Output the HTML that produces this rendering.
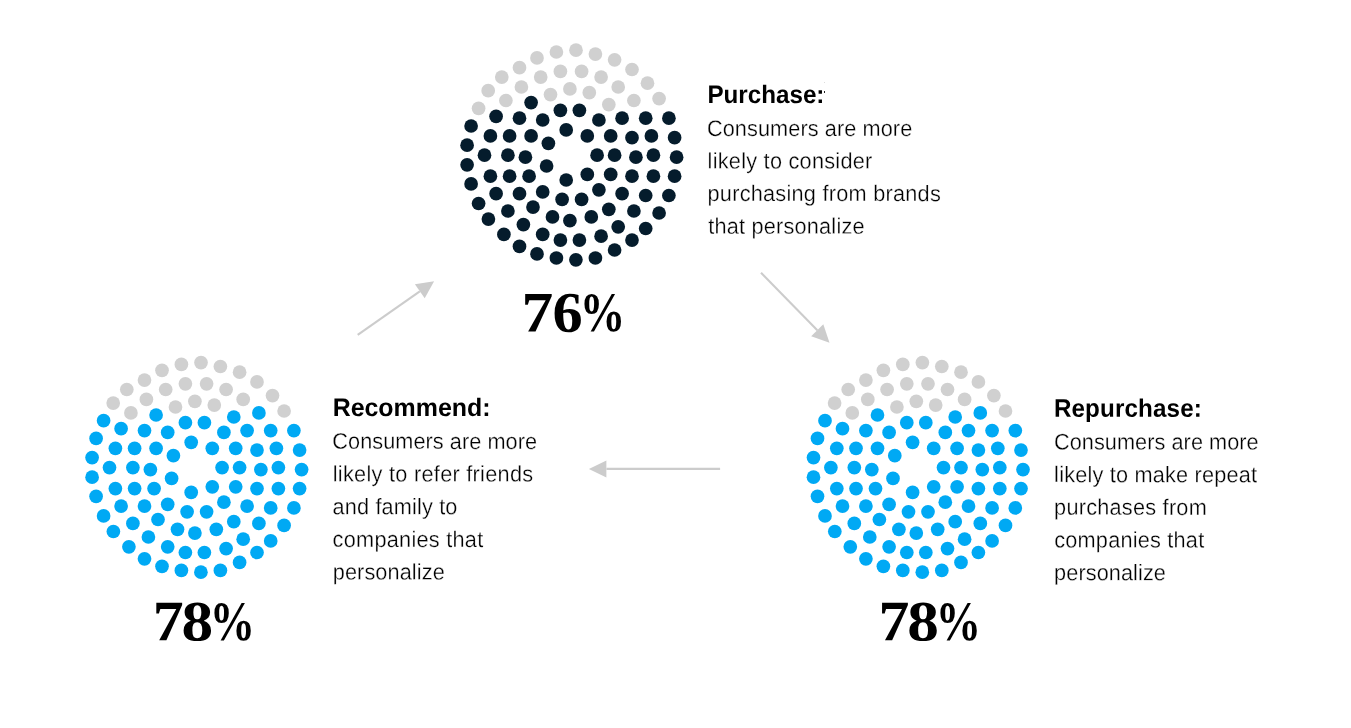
<!DOCTYPE html><html><head><meta charset="utf-8"><title>Personalization</title><style>
html,body{margin:0;padding:0;background:#fff}
body{width:1351px;height:728px;position:relative;overflow:hidden;font-family:"Liberation Sans",sans-serif;color:#000;text-rendering:geometricPrecision}
.t{position:absolute;left:0;top:0;white-space:nowrap;line-height:1;margin:0;transform-origin:0 0}
.r{font-size:21.7px;font-weight:400;-webkit-text-stroke:0.28px #fff}
.b{font-size:24.2px;font-weight:700}
.n{position:absolute;left:0;top:0;white-space:nowrap;font:700 56px/1 "Liberation Serif",serif;margin:0}
.n span{position:absolute;left:0;top:0;display:block;transform-origin:0 0}
</style></head><body>
<svg width="1351" height="728" viewBox="0 0 1351 728" style="position:absolute;left:0;top:0">
<g fill="#d0d0d0"><circle cx="576.0" cy="50.2" r="6.85"/><circle cx="556.4" cy="52.0" r="6.85"/><circle cx="537.0" cy="57.9" r="6.85"/><circle cx="519.5" cy="67.7" r="6.85"/><circle cx="501.8" cy="77.1" r="6.85"/><circle cx="488.2" cy="90.7" r="6.85"/><circle cx="478.6" cy="108.3" r="6.85"/><circle cx="560.4" cy="71.4" r="6.85"/><circle cx="540.7" cy="77.1" r="6.85"/><circle cx="521.4" cy="87.0" r="6.85"/><circle cx="505.9" cy="100.5" r="6.85"/><circle cx="581.6" cy="71.4" r="6.85"/><circle cx="569.9" cy="88.9" r="6.85"/><circle cx="550.5" cy="94.6" r="6.85"/><circle cx="595.4" cy="54.1" r="6.85"/><circle cx="614.6" cy="59.8" r="6.85"/><circle cx="632.0" cy="69.5" r="6.85"/><circle cx="647.5" cy="83.2" r="6.85"/><circle cx="659.1" cy="98.6" r="6.85"/><circle cx="601.1" cy="77.1" r="6.85"/><circle cx="618.2" cy="87.0" r="6.85"/><circle cx="633.9" cy="100.5" r="6.85"/><circle cx="589.3" cy="92.7" r="6.85"/><circle cx="608.8" cy="104.6" r="6.85"/></g>
<g fill="#051c2c"><circle cx="531.1" cy="102.6" r="6.85"/><circle cx="560.4" cy="110.3" r="6.85"/><circle cx="579.4" cy="110.3" r="6.85"/><circle cx="496.1" cy="116.3" r="6.85"/><circle cx="519.5" cy="118.2" r="6.85"/><circle cx="542.7" cy="120.0" r="6.85"/><circle cx="471.1" cy="126.0" r="6.85"/><circle cx="490.4" cy="135.9" r="6.85"/><circle cx="509.6" cy="135.9" r="6.85"/><circle cx="531.1" cy="135.9" r="6.85"/><circle cx="566.2" cy="129.9" r="6.85"/><circle cx="548.4" cy="143.3" r="6.85"/><circle cx="467.1" cy="145.2" r="6.85"/><circle cx="484.5" cy="155.2" r="6.85"/><circle cx="507.9" cy="155.2" r="6.85"/><circle cx="525.4" cy="157.2" r="6.85"/><circle cx="467.1" cy="164.8" r="6.85"/><circle cx="546.6" cy="166.0" r="6.85"/><circle cx="598.9" cy="120.0" r="6.85"/><circle cx="622.1" cy="118.2" r="6.85"/><circle cx="645.7" cy="118.2" r="6.85"/><circle cx="668.9" cy="118.2" r="6.85"/><circle cx="587.3" cy="135.9" r="6.85"/><circle cx="610.7" cy="135.9" r="6.85"/><circle cx="632.0" cy="137.7" r="6.85"/><circle cx="651.4" cy="135.9" r="6.85"/><circle cx="674.6" cy="137.7" r="6.85"/><circle cx="597.1" cy="155.2" r="6.85"/><circle cx="614.6" cy="155.2" r="6.85"/><circle cx="635.9" cy="157.2" r="6.85"/><circle cx="653.4" cy="155.2" r="6.85"/><circle cx="676.6" cy="157.2" r="6.85"/><circle cx="490.4" cy="176.2" r="6.85"/><circle cx="509.6" cy="176.2" r="6.85"/><circle cx="529.1" cy="176.2" r="6.85"/><circle cx="471.1" cy="183.9" r="6.85"/><circle cx="566.2" cy="180.0" r="6.85"/><circle cx="496.1" cy="193.7" r="6.85"/><circle cx="519.5" cy="193.7" r="6.85"/><circle cx="542.7" cy="191.9" r="6.85"/><circle cx="562.1" cy="199.4" r="6.85"/><circle cx="581.6" cy="199.4" r="6.85"/><circle cx="478.6" cy="203.5" r="6.85"/><circle cx="533.0" cy="207.1" r="6.85"/><circle cx="507.9" cy="211.0" r="6.85"/><circle cx="488.4" cy="219.1" r="6.85"/><circle cx="552.5" cy="216.9" r="6.85"/><circle cx="569.9" cy="220.7" r="6.85"/><circle cx="523.4" cy="224.6" r="6.85"/><circle cx="503.9" cy="234.4" r="6.85"/><circle cx="542.7" cy="234.4" r="6.85"/><circle cx="560.4" cy="240.1" r="6.85"/><circle cx="579.4" cy="240.1" r="6.85"/><circle cx="519.5" cy="246.4" r="6.85"/><circle cx="537.0" cy="253.9" r="6.85"/><circle cx="556.4" cy="258.0" r="6.85"/><circle cx="575.9" cy="259.8" r="6.85"/><circle cx="587.3" cy="174.4" r="6.85"/><circle cx="610.7" cy="174.4" r="6.85"/><circle cx="632.0" cy="176.2" r="6.85"/><circle cx="653.4" cy="176.2" r="6.85"/><circle cx="674.6" cy="176.2" r="6.85"/><circle cx="598.9" cy="189.8" r="6.85"/><circle cx="622.1" cy="193.7" r="6.85"/><circle cx="645.7" cy="195.5" r="6.85"/><circle cx="668.9" cy="195.5" r="6.85"/><circle cx="608.8" cy="209.3" r="6.85"/><circle cx="633.9" cy="211.0" r="6.85"/><circle cx="659.1" cy="213.0" r="6.85"/><circle cx="591.3" cy="216.9" r="6.85"/><circle cx="618.2" cy="226.8" r="6.85"/><circle cx="645.7" cy="228.5" r="6.85"/><circle cx="601.1" cy="236.2" r="6.85"/><circle cx="632.0" cy="240.1" r="6.85"/><circle cx="614.6" cy="250.0" r="6.85"/><circle cx="595.4" cy="258.0" r="6.85"/></g>
<g fill="#d0d0d0"><circle cx="201.0" cy="362.6" r="6.85"/><circle cx="181.4" cy="364.4" r="6.85"/><circle cx="162.0" cy="370.3" r="6.85"/><circle cx="144.5" cy="380.1" r="6.85"/><circle cx="126.8" cy="389.5" r="6.85"/><circle cx="113.2" cy="403.1" r="6.85"/><circle cx="185.4" cy="383.8" r="6.85"/><circle cx="165.7" cy="389.5" r="6.85"/><circle cx="146.4" cy="399.4" r="6.85"/><circle cx="130.9" cy="412.9" r="6.85"/><circle cx="206.6" cy="383.8" r="6.85"/><circle cx="194.9" cy="401.3" r="6.85"/><circle cx="175.5" cy="407.0" r="6.85"/><circle cx="220.4" cy="366.5" r="6.85"/><circle cx="239.6" cy="372.2" r="6.85"/><circle cx="257.0" cy="381.9" r="6.85"/><circle cx="272.5" cy="395.6" r="6.85"/><circle cx="284.1" cy="411.0" r="6.85"/><circle cx="226.1" cy="389.5" r="6.85"/><circle cx="243.2" cy="399.4" r="6.85"/><circle cx="214.3" cy="405.1" r="6.85"/></g>
<g fill="#00a9f4"><circle cx="103.6" cy="420.7" r="6.85"/><circle cx="258.9" cy="412.9" r="6.85"/><circle cx="233.8" cy="417.0" r="6.85"/><circle cx="156.1" cy="415.0" r="6.85"/><circle cx="185.4" cy="422.7" r="6.85"/><circle cx="204.4" cy="422.7" r="6.85"/><circle cx="121.1" cy="428.7" r="6.85"/><circle cx="144.5" cy="430.6" r="6.85"/><circle cx="167.7" cy="432.4" r="6.85"/><circle cx="96.1" cy="438.4" r="6.85"/><circle cx="115.4" cy="448.3" r="6.85"/><circle cx="134.6" cy="448.3" r="6.85"/><circle cx="156.1" cy="448.3" r="6.85"/><circle cx="191.2" cy="442.3" r="6.85"/><circle cx="173.4" cy="455.7" r="6.85"/><circle cx="92.1" cy="457.6" r="6.85"/><circle cx="109.5" cy="467.6" r="6.85"/><circle cx="132.9" cy="467.6" r="6.85"/><circle cx="150.4" cy="469.6" r="6.85"/><circle cx="92.1" cy="477.2" r="6.85"/><circle cx="171.6" cy="478.4" r="6.85"/><circle cx="223.9" cy="432.4" r="6.85"/><circle cx="247.1" cy="430.6" r="6.85"/><circle cx="270.7" cy="430.6" r="6.85"/><circle cx="293.9" cy="430.6" r="6.85"/><circle cx="212.3" cy="448.3" r="6.85"/><circle cx="235.7" cy="448.3" r="6.85"/><circle cx="257.0" cy="450.1" r="6.85"/><circle cx="276.4" cy="448.3" r="6.85"/><circle cx="299.6" cy="450.1" r="6.85"/><circle cx="222.1" cy="467.6" r="6.85"/><circle cx="239.6" cy="467.6" r="6.85"/><circle cx="260.9" cy="469.6" r="6.85"/><circle cx="278.4" cy="467.6" r="6.85"/><circle cx="301.6" cy="469.6" r="6.85"/><circle cx="115.4" cy="488.6" r="6.85"/><circle cx="134.6" cy="488.6" r="6.85"/><circle cx="154.1" cy="488.6" r="6.85"/><circle cx="96.1" cy="496.3" r="6.85"/><circle cx="191.2" cy="492.4" r="6.85"/><circle cx="121.1" cy="506.1" r="6.85"/><circle cx="144.5" cy="506.1" r="6.85"/><circle cx="167.7" cy="504.3" r="6.85"/><circle cx="187.1" cy="511.8" r="6.85"/><circle cx="206.6" cy="511.8" r="6.85"/><circle cx="103.6" cy="515.9" r="6.85"/><circle cx="158.0" cy="519.5" r="6.85"/><circle cx="132.9" cy="523.4" r="6.85"/><circle cx="113.4" cy="531.5" r="6.85"/><circle cx="177.5" cy="529.3" r="6.85"/><circle cx="194.9" cy="533.1" r="6.85"/><circle cx="148.4" cy="537.0" r="6.85"/><circle cx="128.9" cy="546.8" r="6.85"/><circle cx="167.7" cy="546.8" r="6.85"/><circle cx="185.4" cy="552.5" r="6.85"/><circle cx="204.4" cy="552.5" r="6.85"/><circle cx="144.5" cy="558.8" r="6.85"/><circle cx="162.0" cy="566.3" r="6.85"/><circle cx="181.4" cy="570.4" r="6.85"/><circle cx="200.9" cy="572.2" r="6.85"/><circle cx="212.3" cy="486.8" r="6.85"/><circle cx="235.7" cy="486.8" r="6.85"/><circle cx="257.0" cy="488.6" r="6.85"/><circle cx="278.4" cy="488.6" r="6.85"/><circle cx="299.6" cy="488.6" r="6.85"/><circle cx="223.9" cy="502.2" r="6.85"/><circle cx="247.1" cy="506.1" r="6.85"/><circle cx="270.7" cy="507.9" r="6.85"/><circle cx="293.9" cy="507.9" r="6.85"/><circle cx="233.8" cy="521.7" r="6.85"/><circle cx="258.9" cy="523.4" r="6.85"/><circle cx="284.1" cy="525.4" r="6.85"/><circle cx="216.3" cy="529.3" r="6.85"/><circle cx="243.2" cy="539.2" r="6.85"/><circle cx="270.7" cy="540.9" r="6.85"/><circle cx="226.1" cy="548.6" r="6.85"/><circle cx="257.0" cy="552.5" r="6.85"/><circle cx="239.6" cy="562.4" r="6.85"/><circle cx="220.4" cy="570.4" r="6.85"/></g>
<g fill="#d0d0d0"><circle cx="922.4" cy="362.6" r="6.85"/><circle cx="902.8" cy="364.4" r="6.85"/><circle cx="883.4" cy="370.3" r="6.85"/><circle cx="865.9" cy="380.1" r="6.85"/><circle cx="848.2" cy="389.5" r="6.85"/><circle cx="834.6" cy="403.1" r="6.85"/><circle cx="906.8" cy="383.8" r="6.85"/><circle cx="887.1" cy="389.5" r="6.85"/><circle cx="867.8" cy="399.4" r="6.85"/><circle cx="852.3" cy="412.9" r="6.85"/><circle cx="928.0" cy="383.8" r="6.85"/><circle cx="916.3" cy="401.3" r="6.85"/><circle cx="896.9" cy="407.0" r="6.85"/><circle cx="941.8" cy="366.5" r="6.85"/><circle cx="961.0" cy="372.2" r="6.85"/><circle cx="978.4" cy="381.9" r="6.85"/><circle cx="993.9" cy="395.6" r="6.85"/><circle cx="1005.5" cy="411.0" r="6.85"/><circle cx="947.5" cy="389.5" r="6.85"/><circle cx="964.6" cy="399.4" r="6.85"/><circle cx="935.7" cy="405.1" r="6.85"/></g>
<g fill="#00a9f4"><circle cx="825.0" cy="420.7" r="6.85"/><circle cx="980.3" cy="412.9" r="6.85"/><circle cx="955.2" cy="417.0" r="6.85"/><circle cx="877.5" cy="415.0" r="6.85"/><circle cx="906.8" cy="422.7" r="6.85"/><circle cx="925.8" cy="422.7" r="6.85"/><circle cx="842.5" cy="428.7" r="6.85"/><circle cx="865.9" cy="430.6" r="6.85"/><circle cx="889.1" cy="432.4" r="6.85"/><circle cx="817.5" cy="438.4" r="6.85"/><circle cx="836.8" cy="448.3" r="6.85"/><circle cx="856.0" cy="448.3" r="6.85"/><circle cx="877.5" cy="448.3" r="6.85"/><circle cx="912.6" cy="442.3" r="6.85"/><circle cx="894.8" cy="455.7" r="6.85"/><circle cx="813.5" cy="457.6" r="6.85"/><circle cx="830.9" cy="467.6" r="6.85"/><circle cx="854.3" cy="467.6" r="6.85"/><circle cx="871.8" cy="469.6" r="6.85"/><circle cx="813.5" cy="477.2" r="6.85"/><circle cx="893.0" cy="478.4" r="6.85"/><circle cx="945.3" cy="432.4" r="6.85"/><circle cx="968.5" cy="430.6" r="6.85"/><circle cx="992.1" cy="430.6" r="6.85"/><circle cx="1015.3" cy="430.6" r="6.85"/><circle cx="933.7" cy="448.3" r="6.85"/><circle cx="957.1" cy="448.3" r="6.85"/><circle cx="978.4" cy="450.1" r="6.85"/><circle cx="997.8" cy="448.3" r="6.85"/><circle cx="1021.0" cy="450.1" r="6.85"/><circle cx="943.5" cy="467.6" r="6.85"/><circle cx="961.0" cy="467.6" r="6.85"/><circle cx="982.3" cy="469.6" r="6.85"/><circle cx="999.8" cy="467.6" r="6.85"/><circle cx="1023.0" cy="469.6" r="6.85"/><circle cx="836.8" cy="488.6" r="6.85"/><circle cx="856.0" cy="488.6" r="6.85"/><circle cx="875.5" cy="488.6" r="6.85"/><circle cx="817.5" cy="496.3" r="6.85"/><circle cx="912.6" cy="492.4" r="6.85"/><circle cx="842.5" cy="506.1" r="6.85"/><circle cx="865.9" cy="506.1" r="6.85"/><circle cx="889.1" cy="504.3" r="6.85"/><circle cx="908.5" cy="511.8" r="6.85"/><circle cx="928.0" cy="511.8" r="6.85"/><circle cx="825.0" cy="515.9" r="6.85"/><circle cx="879.4" cy="519.5" r="6.85"/><circle cx="854.3" cy="523.4" r="6.85"/><circle cx="834.8" cy="531.5" r="6.85"/><circle cx="898.9" cy="529.3" r="6.85"/><circle cx="916.3" cy="533.1" r="6.85"/><circle cx="869.8" cy="537.0" r="6.85"/><circle cx="850.3" cy="546.8" r="6.85"/><circle cx="889.1" cy="546.8" r="6.85"/><circle cx="906.8" cy="552.5" r="6.85"/><circle cx="925.8" cy="552.5" r="6.85"/><circle cx="865.9" cy="558.8" r="6.85"/><circle cx="883.4" cy="566.3" r="6.85"/><circle cx="902.8" cy="570.4" r="6.85"/><circle cx="922.3" cy="572.2" r="6.85"/><circle cx="933.7" cy="486.8" r="6.85"/><circle cx="957.1" cy="486.8" r="6.85"/><circle cx="978.4" cy="488.6" r="6.85"/><circle cx="999.8" cy="488.6" r="6.85"/><circle cx="1021.0" cy="488.6" r="6.85"/><circle cx="945.3" cy="502.2" r="6.85"/><circle cx="968.5" cy="506.1" r="6.85"/><circle cx="992.1" cy="507.9" r="6.85"/><circle cx="1015.3" cy="507.9" r="6.85"/><circle cx="955.2" cy="521.7" r="6.85"/><circle cx="980.3" cy="523.4" r="6.85"/><circle cx="1005.5" cy="525.4" r="6.85"/><circle cx="937.7" cy="529.3" r="6.85"/><circle cx="964.6" cy="539.2" r="6.85"/><circle cx="992.1" cy="540.9" r="6.85"/><circle cx="947.5" cy="548.6" r="6.85"/><circle cx="978.4" cy="552.5" r="6.85"/><circle cx="961.0" cy="562.4" r="6.85"/><circle cx="941.8" cy="570.4" r="6.85"/></g>
<line x1="357.7" y1="334.8" x2="419.8" y2="291.3" stroke="#cccccc" stroke-width="2.1"/><polygon fill="#cccccc" points="434.1,281.2 424.7,298.2 414.9,284.3"/>
<line x1="761.0" y1="272.7" x2="817.3" y2="330.3" stroke="#cccccc" stroke-width="2.1"/><polygon fill="#cccccc" points="829.5,342.8 811.2,336.2 823.3,324.3"/>
<line x1="720.1" y1="468.9" x2="606.4" y2="468.9" stroke="#cccccc" stroke-width="2.1"/><polygon fill="#cccccc" points="588.9,468.9 606.4,460.4 606.4,477.4"/>
</svg>
<div class="t b" id="l0" style="letter-spacing:0.010px;transform:translate(707.40px,83.05px) rotate(.03deg) scale(1.0000,1.045)">Purchase:</div>
<div class="t r" id="l1" style="letter-spacing:0.094px;transform:translate(706.92px,117.20px) rotate(.03deg) scale(1.0000,1.040)">Consumers are more</div>
<div class="t r" id="l2" style="letter-spacing:0.262px;transform:translate(707.56px,149.80px) rotate(.03deg) scale(1.0000,1.040)">likely to consider</div>
<div class="t r" id="l3" style="letter-spacing:0.257px;transform:translate(707.52px,182.30px) rotate(.03deg) scale(1.0000,1.040)">purchasing from brands</div>
<div class="t r" id="l4" style="letter-spacing:0.216px;transform:translate(708.19px,215.05px) rotate(.03deg) scale(1.0000,1.040)">that personalize</div>
<div class="t b" id="l5" style="letter-spacing:0.000px;transform:translate(332.67px,396.15px) rotate(.03deg) scale(1.0302,1.045)">Recommend:</div>
<div class="t r" id="l6" style="letter-spacing:0.061px;transform:translate(332.29px,430.10px) rotate(.03deg) scale(1.0000,1.040)">Consumers are more</div>
<div class="t r" id="l7" style="letter-spacing:0.287px;transform:translate(332.76px,462.80px) rotate(.03deg) scale(1.0000,1.040)">likely to refer friends</div>
<div class="t r" id="l8" style="letter-spacing:0.153px;transform:translate(332.59px,495.45px) rotate(.03deg) scale(1.0000,1.040)">and family to</div>
<div class="t r" id="l9" style="letter-spacing:0.270px;transform:translate(332.62px,528.15px) rotate(.03deg) scale(1.0000,1.040)">companies that</div>
<div class="t r" id="l10" style="letter-spacing:0.110px;transform:translate(332.73px,560.80px) rotate(.03deg) scale(1.0000,1.040)">personalize</div>
<div class="t b" id="l11" style="letter-spacing:0.143px;transform:translate(1053.90px,396.80px) rotate(.03deg) scale(1.0000,1.045)">Repurchase:</div>
<div class="t r" id="l12" style="letter-spacing:0.059px;transform:translate(1054.00px,430.75px) rotate(.03deg) scale(1.0000,1.040)">Consumers are more</div>
<div class="t r" id="l13" style="letter-spacing:0.197px;transform:translate(1054.13px,463.40px) rotate(.03deg) scale(1.0000,1.040)">likely to make repeat</div>
<div class="t r" id="l14" style="letter-spacing:0.243px;transform:translate(1054.11px,496.10px) rotate(.03deg) scale(1.0000,1.040)">purchases from</div>
<div class="t r" id="l15" style="letter-spacing:0.218px;transform:translate(1054.25px,528.75px) rotate(.03deg) scale(1.0000,1.040)">companies that</div>
<div class="t r" id="l16" style="letter-spacing:0.089px;transform:translate(1054.11px,561.40px) rotate(.03deg) scale(1.0000,1.040)">personalize</div>
<i style="position:absolute;left:824px;top:91px;width:1px;height:1.6px;background:#222"></i><i style="position:absolute;left:824px;top:82px;width:1px;height:1px;background:#ddd"></i>
<div class="n" id="n0"><span style="transform:translate(521.51px,284.40px) rotate(.03deg) scale(1.1340,1.0239)">7</span><span style="transform:translate(552.58px,284.58px) rotate(.03deg) scale(1.0776,1.0240)">6</span><span style="transform:translate(579.68px,285.28px) rotate(.03deg) scale(0.8122,0.9961)">%</span></div>
<div class="n" id="n1"><span style="transform:translate(152.66px,593.23px) rotate(.03deg) scale(1.1021,1.0212)">7</span><span style="transform:translate(181.48px,593.48px) rotate(.03deg) scale(1.1299,1.0199)">8</span><span style="transform:translate(209.75px,594.13px) rotate(.03deg) scale(0.8089,0.9908)">%</span></div>
<div class="n" id="n2"><span style="transform:translate(878.56px,593.23px) rotate(.03deg) scale(1.1021,1.0212)">7</span><span style="transform:translate(907.38px,593.48px) rotate(.03deg) scale(1.1299,1.0199)">8</span><span style="transform:translate(935.65px,594.13px) rotate(.03deg) scale(0.8089,0.9908)">%</span></div>
</body></html>
